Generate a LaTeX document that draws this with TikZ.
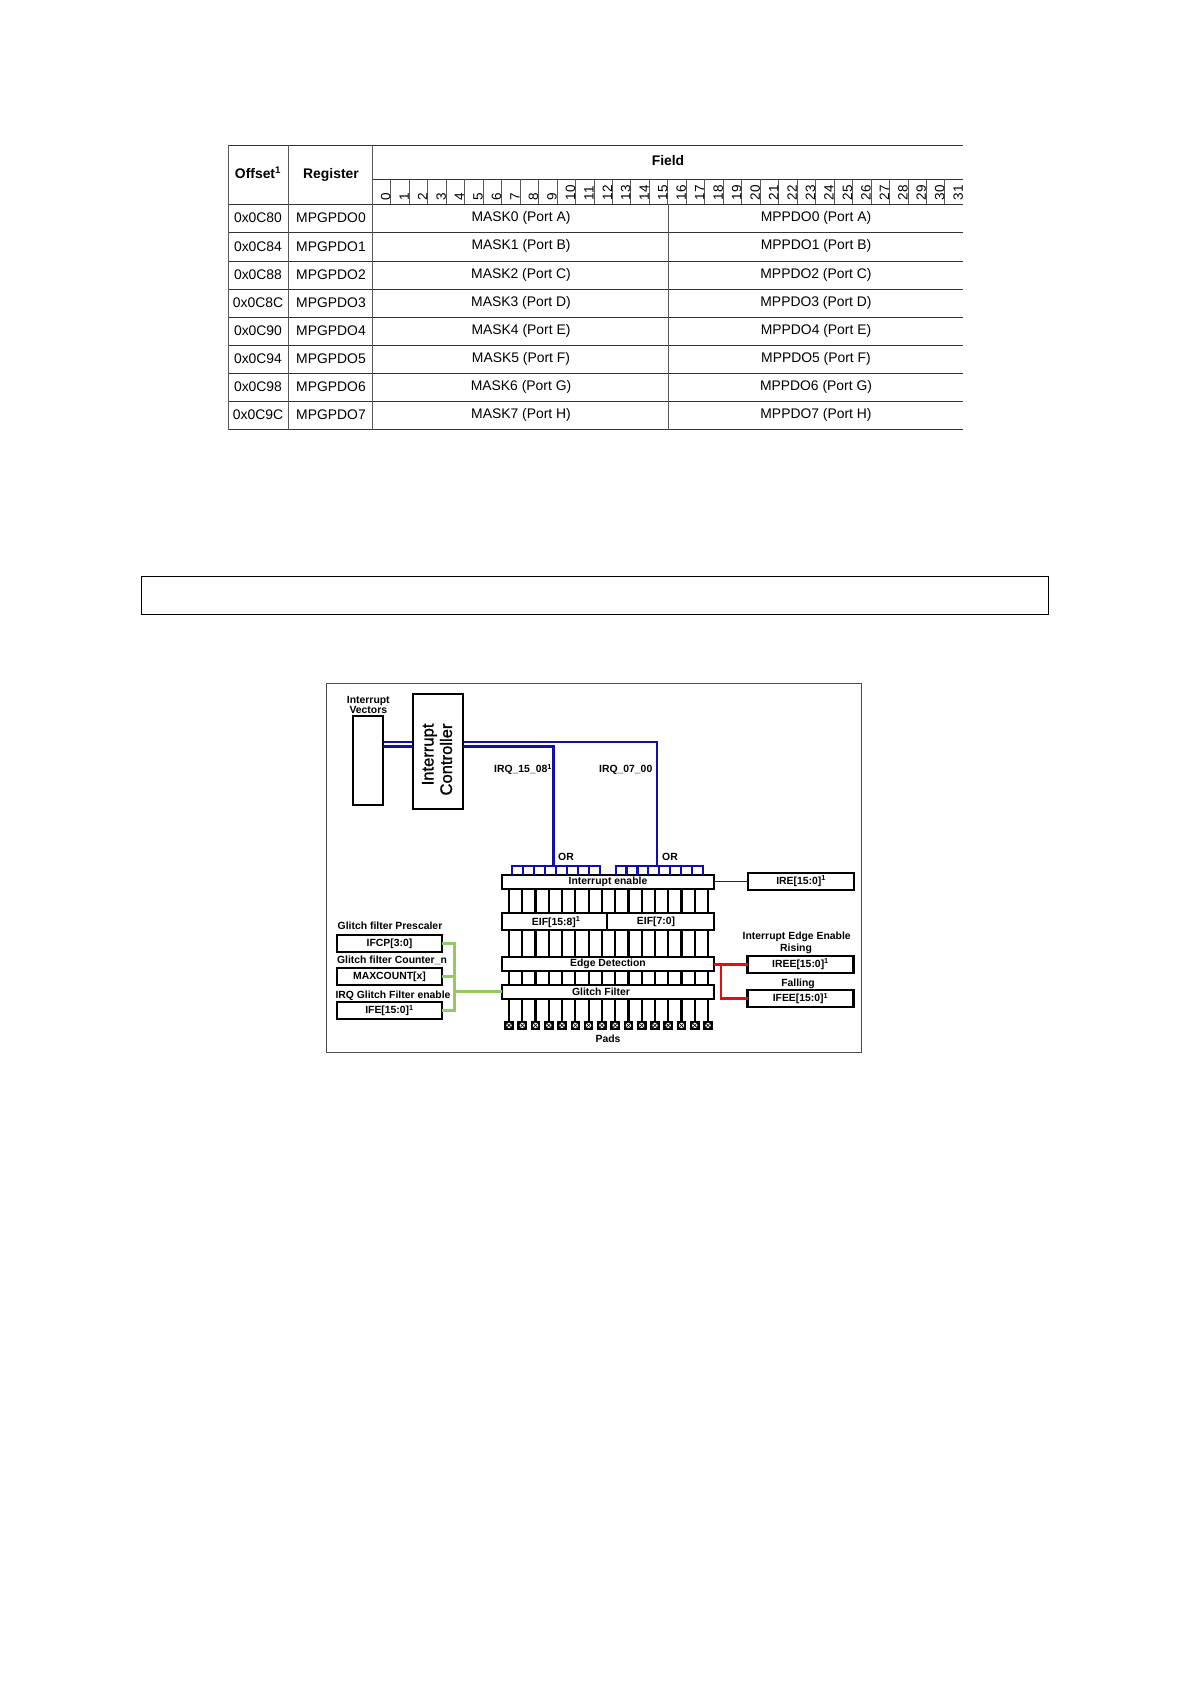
\documentclass[tikz,border=0pt]{standalone}
\usepackage{fontspec}
\setmainfont{Liberation Sans}
\newfontfamily\ctlfont[FakeBold=1.2]{Liberation Sans}
\usetikzlibrary{calc}
\definecolor{busblue}{RGB}{16,16,168}
\definecolor{busgreen}{RGB}{150,200,100}
\definecolor{busred}{RGB}{224,16,16}
\newcommand\tf{\fontsize{13.9}{16}\selectfont}
\newcommand\df{\fontsize{10.4}{11}\selectfont\bfseries}
\newcommand\bx[6]{%
  \pgfmathsetmacro\cxx{(#2+#4)/2}\pgfmathsetmacro\cyy{(#3+#5)/2}%
  \pgfmathsetmacro\wxx{#4-#2}\pgfmathsetmacro\hyy{#5-#3}%
  \node[blk,minimum width=\wxx pt,minimum height=\hyy pt] (#1) at (\cxx,\cyy) {#6};}
\tikzset{
  blk/.style={draw=black,line width=2.2pt,fill=white,inner sep=0pt,outer sep=0pt,font=\df},
  lbl/.style={inner sep=0pt,outer sep=0pt,font=\df},
  cell/.style={inner sep=0pt,outer sep=0pt,font=\tf},
  hcell/.style={inner sep=0pt,outer sep=0pt,font=\tf\bfseries},
  bit/.style={inner sep=0pt,outer sep=0pt,rotate=90,anchor=west,font=\fontsize{13.5}{14}\selectfont},
  rowline/.style={line width=0.9pt,draw=black!80},
  colline/.style={line width=0.8pt,draw=black!65},
  sig/.style={draw=black,line width=2.2pt},
  sigthin/.style={draw=black!85,line width=1.5pt},
  bluebus/.style={draw=busblue,line width=2.2pt},
  bluebold/.style={draw=busblue,line width=3pt},
  greenbus/.style={draw=busgreen,line width=2.8pt},
  redbus/.style={draw=busred,line width=2.4pt},
  padbox/.style={fill=black,draw=none,minimum size=9.6pt,inner sep=0pt,outer sep=0pt},
}
\begin{document}
\begin{tikzpicture}[x=1pt,y=-1pt]
\useasboundingbox (0,0) rectangle (1191,1684);
\fill[white] (0,0) rectangle (1191,1684);
% ---------- table ----------
\draw[rowline] (228,145) -- (963,145);
\draw[rowline] (372.3,179.3) -- (963,179.3);
\foreach \yy in {204.3,232.4,261,289.2,317.3,345.4,373.5,401.6,429.7} \draw[rowline] (228,\yy) -- (963,\yy);
\draw[colline] (228,145) -- (228,429.7);
\draw[colline] (288.3,145) -- (288.3,429.7);
\draw[colline] (372.3,145) -- (372.3,429.7);
\draw[colline] (668,204.3) -- (668,429.7);
\foreach \i in {1,...,31}{
  \pgfmathsetmacro\xx{372.3+18.47*\i}
  \draw[colline] (\xx,179.3) -- (\xx,204.3);
}
\foreach \i in {0,...,31}{
  \pgfmathsetmacro\xx{372.3+18.47*\i+13.4}
  \node[bit] (b\i) at (\xx,200.5) {\i};
}
\node[hcell] (hoff) at (258,173) {Offset\textsuperscript{1}};
\node[hcell] (hreg) at (331,174.5) {Register};
\node[hcell] (hfld) at (668,160.5) {Field};
\foreach \i/\o/\p in {0/0x0C80/A,1/0x0C84/B,2/0x0C88/C,3/0x0C8C/D,4/0x0C90/E,5/0x0C94/F,6/0x0C98/G,7/0x0C9C/H}{
  \pgfmathsetmacro\yy{218.2+28.1*\i}
  \node[cell] (off\i) at (258,\yy) {\o};
  \node[cell] (reg\i) at (331,\yy) {MPGPDO\i};
  \node[cell] (msk\i) at (521,\yy) {MASK\i{} (Port \p)};
  \node[cell] (dat\i) at (816,\yy) {MPPDO\i{} (Port \p)};
}
% ---------- empty box ----------
\node[draw=black,line width=0.9pt,minimum width=907pt,minimum height=38pt,inner sep=0pt,outer sep=0pt] (capbox) at (594.5,595) {};
% ---------- diagram frame ----------
\node[draw=black!70,line width=1pt,minimum width=535pt,minimum height=369pt,inner sep=0pt,outer sep=0pt] (frame) at (594.2,867.5) {};
% pads
\foreach \i in {0,...,15}{
  \pgfmathsetmacro\xx{509+13.27*\i}
  \node[padbox] (pad\i) at (\xx,1025.4) {};
  \fill[white] (pad\i) circle (2.7pt);
  \draw[black,line width=0.6pt] ($(pad\i)+(-1.9,-1.9)$) -- ($(pad\i)+(1.9,1.9)$) ($(pad\i)+(-1.9,1.9)$) -- ($(pad\i)+(1.9,-1.9)$);
}
% boxes of the stack
\bx{vec}{352.7}{715.7}{383.3}{805}{}
\bx{ctl}{412.7}{694}{462.7}{808.7}{}
\bx{ie}{501.7}{875}{714.3}{889.3}{Interrupt enable}
\bx{eifh}{501.7}{913.3}{606.7}{930.3}{\hspace*{4pt}EIF[15:8]\textsuperscript{1}}
\bx{eifl}{606.7}{913.3}{714.3}{930.3}{EIF[7:0]\hspace*{9pt}}
\bx{edge}{501.7}{956.7}{714.3}{971}{Edge Detection}
\bx{glt}{501.7}{985}{714.3}{999}{}
\node[lbl] (glttxt) at (601,991.3) {Glitch Filter};
\bx{ire}{748.3}{872.7}{854}{890}{IRE[15:0]\textsuperscript{1}}
\bx{iree}{747.5}{956}{853.5}{972.7}{IREE[15:0]\textsuperscript{1}}
\bx{ifee}{747.5}{990}{853.5}{1007.3}{IFEE[15:0]\textsuperscript{1}}
\bx{ifcp}{336.7}{935}{442.3}{951.7}{IFCP[3:0]}
\bx{maxc}{336.7}{968.3}{442.3}{985}{MAXCOUNT[x]}
\bx{ife}{336.7}{1002.3}{442.3}{1019}{IFE[15:0]\textsuperscript{1}}
% vertical signals
\foreach \i in {0,...,15}{
  \ifnum\i<8
    \draw[sig] (pad\i |- ie.south) -- (pad\i |- eifh.north);
    \draw[sig] (pad\i |- eifh.south) -- (pad\i |- edge.north);
  \else
    \draw[sig] (pad\i |- ie.south) -- (pad\i |- eifl.north);
    \draw[sig] (pad\i |- eifl.south) -- (pad\i |- edge.north);
  \fi
  \draw[sig] (pad\i |- edge.south) -- (pad\i |- glt.north);
  \draw[sig] (pad\i |- glt.south) -- (pad\i.north);
}
% blue buses
\coordinate (jhi) at (553.3,866);
\coordinate (jlo) at (656.7,866);
\coordinate (vt) at ($(vec.east)+(0,-18.5)$);
\coordinate (vb) at ($(vec.east)+(0,-14.3)$);
\draw[bluebus] (vt) -- (vt -| ctl.west);
\draw[bluebold] (vb) -- (vb -| ctl.west);
\draw[bluebus] (vt -| ctl.east) -- (vt -| jlo) -- (jlo);
\draw[bluebold] (vb -| ctl.east) -- (vb -| jhi) -- (jhi);
\draw[bluebus] (511.3,866) -- (601,866);
\foreach \i in {0,...,8}{\pgfmathsetmacro\xx{512.3+10.96*\i}\coordinate (tk) at (\xx,866); \draw[bluebus] (tk) -- (tk |- ie.north);}
\draw[bluebus] (614.7,866) -- (703.7,866);
\foreach \i in {0,...,8}{\pgfmathsetmacro\xx{615.7+10.875*\i}\coordinate (tk) at (\xx,866); \draw[bluebus] (tk) -- (tk |- ie.north);}
% control connections
\draw[sigthin] (ie.east |- ire.west) -- (ire.west);
\coordinate (rj) at (720.7,1000);
\draw[redbus] (edge.east |- iree.west) -- (iree.west);
\draw[redbus] (rj |- iree.west) -- (rj |- ifee.west) -- (ifee.west);
\coordinate (gj) at (454.3,991.7);
\draw[greenbus] (ifcp.east) -- (gj |- ifcp.east) -- (gj |- ife.east) -- (ife.east);
\draw[greenbus] (maxc.east) -- (gj |- maxc.east);
\draw[greenbus] (gj) -- (gj -| glt.west);
% labels
\node[lbl] (l1) at (368.3,700.5) {Interrupt};
\node[lbl] (l2) at (368.3,709.5) {Vectors};
\node[inner sep=0pt,rotate=90,font=\fontsize{16.6}{18}\ctlfont,anchor=east] (l3) at (429.5,723.3) {Interrupt};
\node[inner sep=0pt,rotate=90,font=\fontsize{16.6}{18}\ctlfont,anchor=east] (l4) at (446,723.3) {Controller};
\node[lbl] (l5) at (523,769.5) {IRQ\_15\_08\textsuperscript{1}};
\node[lbl] (l6) at (625.7,769.5) {IRQ\_07\_00};
\node[lbl] (l7) at (566,857.3) {OR};
\node[lbl] (l8) at (670,857.3) {OR};
\node[lbl] (l9) at (608,1038.5) {Pads};
\node[lbl] (l10) at (796.7,936.5) {Interrupt Edge Enable};
\node[lbl] (l11) at (796,949) {Rising};
\node[lbl] (l12) at (798,983.5) {Falling};
\node[lbl] (l13) at (390,925.7) {Glitch filter Prescaler};
\node[lbl] (l14) at (392,960) {Glitch filter Counter\_n};
\node[lbl] (l15) at (393,996) {IRQ Glitch Filter enable};
\end{tikzpicture}
\end{document}
